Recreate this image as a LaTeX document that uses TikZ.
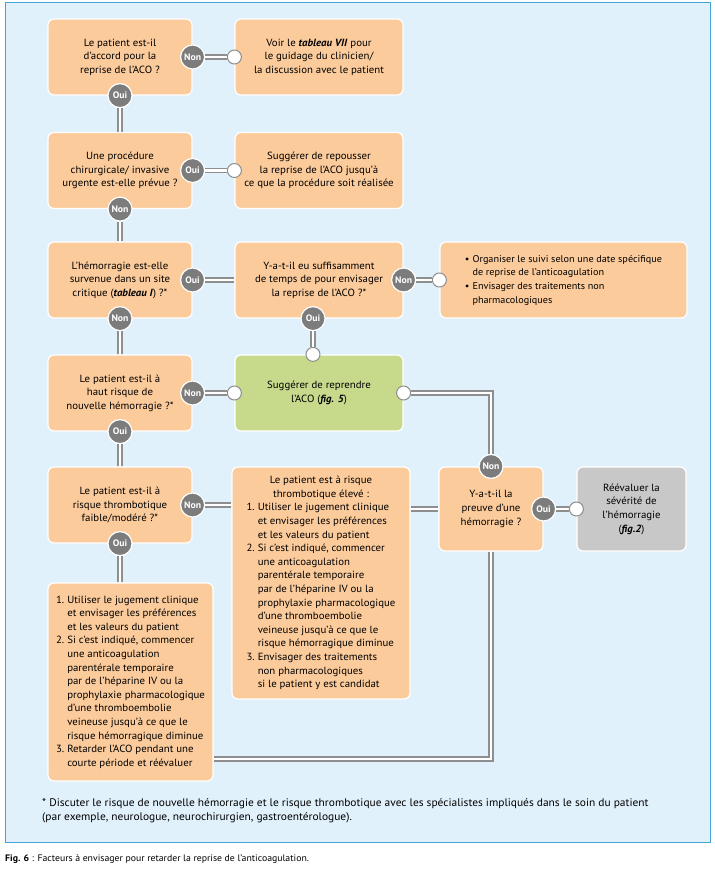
\documentclass[tikz,border=0pt]{standalone}
\usepackage{fontspec}
\setmainfont{PT Sans}[FakeStretch=1.04]
\definecolor{peach}{HTML}{FBCB9C}
\definecolor{leaf}{HTML}{C7DA8C}
\definecolor{slate}{HTML}{C8C8C8}
\definecolor{sky}{HTML}{E1F1FC}
\definecolor{skyline}{HTML}{45A5D9}
\definecolor{knobgray}{HTML}{7C7C7C}
\definecolor{wiregray}{HTML}{8E8E8E}
\pgfdeclarelayer{back}
\pgfdeclarelayer{wires}
\pgfsetlayers{back,wires,main}

\begin{document}
\begin{tikzpicture}[x=1pt,y=-1pt,every node/.style={font=\fontsize{10.4}{13.6}\selectfont},
box/.style={draw=white,line width=1.2pt,rounded corners=6pt,fill=peach,align=center,inner sep=3pt},
qbox/.style={box,minimum width=144,minimum height=76},
abox/.style={box,minimum width=168,minimum height=76},
knob/.style={circle,fill=knobgray,draw=white,line width=1.2pt,minimum size=24,inner sep=0pt,text=white,font=\bfseries\fontsize{9.4}{9}\selectfont},
dot/.style={circle,fill=white,draw=wiregray,line width=1pt,minimum size=14,inner sep=0pt},
wire/.style={draw=wiregray,line width=1.3pt,double=white,double distance=2.6pt}]
\useasboundingbox (0,0) rectangle (715,871);
\begin{pgfonlayer}{back}
\fill[sky,draw=skyline,line width=1pt] (5,2) rectangle (710,842);
\end{pgfonlayer}

\node[qbox] (agree) at (120,57) {Le patient est-il\\d'accord pour la\\reprise de l'ACO ?};
\node[abox] (guide) at (319,57) {Voir le \textbf{\textit{tableau VII}} pour\\le guidage du clinicien/\\la discussion avec le patient};
\node[qbox] (surg) at (120,170.5) {Une procédure\\chirurgicale/ invasive\\urgente est-elle prévue ?};
\node[abox] (delay) at (319,170.5) {Suggérer de repousser\\la reprise de l'ACO jusqu'à\\ce que la procédure soit réalisée};
\node[qbox] (site) at (120,280) {L'hémorragie est-elle\\survenue dans un site\\critique (\textbf{\textit{tableau I}}) ?*};
\node[abox] (time) at (319,280) {Y-a-t-il eu suffisamment\\de temps de pour envisager\\la reprise de l'ACO ?*};
\node[box,minimum width=247,minimum height=76,font=\fontsize{9.8}{13.6}\selectfont] (plan) at (563.5,280) {\begin{tabular}{@{}l@{\hspace{3pt}}l@{}}
\textbullet & Organiser le suivi selon une date spécifique\\ & de reprise de l'anticoagulation\\
\textbullet & Envisager des traitements non\\ & pharmacologiques\end{tabular}};
\node[qbox] (rebleed) at (120,393) {Le patient est-il à\\haut risque de\\nouvelle hémorragie ?*};
\node[abox,fill=leaf] (resume) at (319,393) {Suggérer de reprendre\\l'ACO (\textbf{\textit{fig. 5}})};
\node[qbox] (thromb) at (120,505) {Le patient est-il à\\risque thrombotique\\faible/modéré ?*};
\node[box,minimum width=178,minimum height=232] (high) at (321,583) {\begin{tabular}{@{}l@{\hspace{3pt}}l@{}}
\multicolumn{2}{c}{Le patient est à risque}\\ \multicolumn{2}{c}{thrombotique élevé :}\\
1. & Utiliser le jugement clinique\\ & et envisager les préférences\\ & et les valeurs du patient\\
2. & Si c'est indiqué, commencer\\ & une anticoagulation\\ & parentérale temporaire\\ & par de l'héparine IV ou la\\ & prophylaxie pharmacologique\\ & d'une thromboembolie\\ & veineuse jusqu'à ce que le\\ & risque hémorragique diminue\\
3. & Envisager des traitements\\ & non pharmacologiques\\ & si le patient y est candidat\end{tabular}};
\node[box,minimum width=165,minimum height=198] (low) at (130.5,682) {\begin{tabular}{@{}l@{\hspace{3pt}}l@{}}
1. & Utiliser le jugement clinique\\ & et envisager les préférences\\ & et les valeurs du patient\\
2. & Si c'est indiqué, commencer\\ & une anticoagulation\\ & parentérale temporaire\\ & par de l'héparine IV ou la\\ & prophylaxie pharmacologique\\ & d'une thromboembolie\\ & veineuse jusqu'à ce que le\\ & risque hémorragique diminue\\
3. & Retarder l'ACO pendant une\\ & courte période et réévaluer\end{tabular}};
\node[box,minimum width=104,minimum height=84] (proof) at (491,509) {Y-a-t-il la\\preuve d'une\\hémorragie ?};
\node[box,fill=slate,minimum width=109,minimum height=84] (reval) at (631.5,509) {Réévaluer la\\sévérité de\\l'hémorragie\\(\textbf{\textit{fig.2}})};

\node[knob] (agreeNo) at (agree.east) {Non};
\node[knob] (agreeYes) at (agree.south) {Oui};
\node[knob] (surgYes) at (surg.east) {Oui};
\node[knob] (surgNo) at (surg.south) {Non};
\node[knob] (siteYes) at (site.east) {Oui};
\node[knob] (siteNo) at (site.south) {Non};
\node[knob] (timeNo) at (time.east) {Non};
\node[knob] (timeYes) at ([xshift=-6pt]time.south) {Oui};
\node[knob] (rebleedNo) at (rebleed.east) {Non};
\node[knob] (rebleedYes) at (rebleed.south) {Oui};
\node[knob] (thrombNo) at (thromb.east) {Non};
\node[knob] (thrombYes) at (thromb.south) {Oui};
\node[knob] (proofNo) at (proof.north) {Non};
\node[knob] (proofYes) at (proof.east) {Oui};

\node[dot] (guideIn) at (guide.west) {};
\node[dot] (delayIn) at (delay.west) {};
\node[dot] (planIn) at (plan.west) {};
\node[dot] (resumeTop) at (timeYes |- resume.north) {};
\node[dot] (resumeIn) at (resume.west) {};
\node[dot] (resumeOut) at (resume.east) {};
\node[dot] (revalIn) at (reval.west) {};

\begin{pgfonlayer}{wires}
\draw[wire] (agreeNo) -- (guideIn);
\draw[wire] (agreeYes) -- (surg.north);
\draw[wire] (surgYes) -- (delayIn);
\draw[wire] (surgNo) -- (site.north);
\draw[wire] (siteYes) -- (time.west);
\draw[wire] (siteNo) -- (rebleed.north);
\draw[wire] (timeNo) -- (planIn);
\draw[wire] (timeYes) -- (resumeTop);
\draw[wire] (rebleedNo) -- (resumeIn);
\draw[wire] (rebleedYes) -- (thromb.north);
\draw[wire] (resumeOut) -| (proofNo);
\draw[wire] (thrombNo) -- (thrombNo -| high.west);
\draw[wire] (thrombYes) -- (thrombYes |- low.north);
\draw[wire] (high.east |- proof.west) -- (proof.west);
\draw[wire] ([yshift=-77pt]low.east) -| (proof.south);
\draw[wire] (proofYes) -- (revalIn);
\end{pgfonlayer}

\node[anchor=west,align=left,inner sep=0pt,font=\fontsize{11}{14}\selectfont] (note) at (42,811) {* Discuter le risque de nouvelle hémorragie et le risque thrombotique avec les spécialistes impliqués dans le soin du patient\\(par exemple, neurologue, neurochirurgien, gastroentérologue).};
\node[anchor=west,inner sep=0pt,font=\fontsize{9.4}{10}\selectfont] (caption) at (5,859) {\textbf{Fig. 6} : Facteurs à envisager pour retarder la reprise de l'anticoagulation.};
\end{tikzpicture}
\end{document}
